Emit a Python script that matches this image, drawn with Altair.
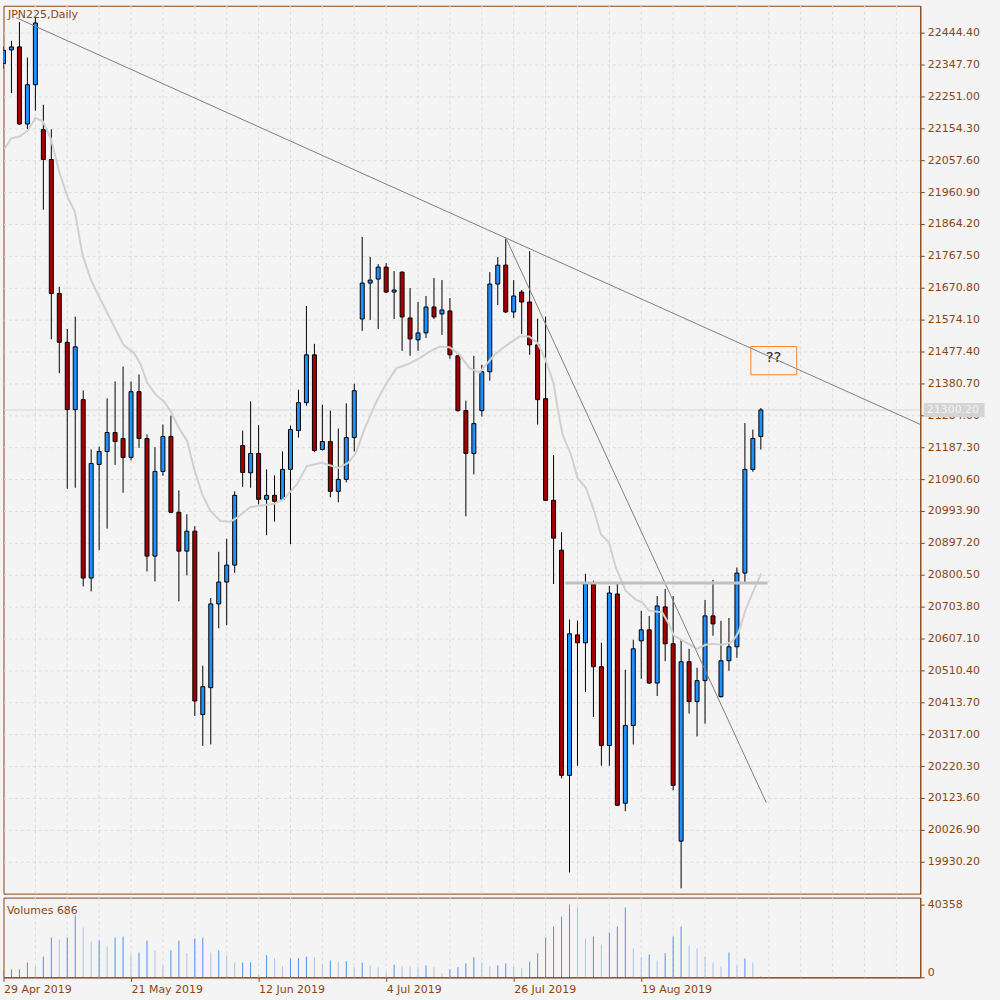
import altair as alt
import pandas as pd

BROWN = "#8B4513"
FONT = "DejaVu Sans"
BG = "#f4f4f4"

symbol_title = "JPN225,Daily"
date_labels = ["29 Apr 2019", "21 May 2019", "12 Jun 2019", "4 Jul 2019", "26 Jul 2019", "19 Aug 2019"]
date_label_idx = [0, 16, 32, 48, 64, 80]

price_ticks = [22444.40, 22347.70, 22251.00, 22154.30, 22057.60, 21960.90, 21864.20, 21767.50,
               21670.80, 21574.10, 21477.40, 21380.70, 21284.00, 21187.30, 21090.60, 20993.90,
               20897.20, 20800.50, 20703.80, 20607.10, 20510.40, 20413.70, 20317.00, 20220.30,
               20123.60, 20026.90, 19930.20]

opens = [
    22350.7, 22392.1, 22401.2, 22167.3, 22286.4, 22150.4, 22059.7, 21653.6, 21505.5, 21301.2,
    21331.4, 20790.5, 21135.0, 21174.3, 21231.7, 21213.6, 21156.2, 21355.6, 21213.6, 20857.0,
    21113.9, 21219.6, 20990.0, 20872.1, 20932.6, 20376.5, 20458.1, 20712.0, 20778.4, 20829.8,
    21192.4, 21109.6, 21168.3, 21029.3, 21041.3, 21029.3, 21119.9, 21237.8, 21322.4, 21467.4,
    21180.3, 21204.5, 21053.4, 21089.7, 21216.6, 21576.2, 21685.0, 21697.1, 21733.4, 21657.8,
    21718.2, 21579.2, 21512.8, 21533.9, 21612.5, 21591.3, 21600.4, 21464.4, 21298.2, 21168.3,
    21298.2, 21416.1, 21682.0, 21739.4, 21597.4, 21657.8, 21627.6, 21497.6, 21334.5, 21026.2,
    20875.1, 20192.2, 20618.3, 20594.1, 20772.4, 20521.6, 20282.8, 20742.2, 20107.6, 20343.3,
    20600.1, 20633.4, 20472.0, 20702.9, 20591.1, 19992.7, 20536.7, 20415.8, 20479.3, 20675.7,
    20430.9, 20539.7, 20582.0, 20805.6, 21119.9, 21219.6]

highs = [
    22402.1, 22419.3, 22476.7, 22368.9, 22489.7, 22225.9, 22151.3, 21673.8, 21546.0, 21583.2,
    21359.5, 21180.3, 21189.4, 21335.4, 21386.7, 21432.1, 21386.7, 21407.9, 21225.7, 21187.3,
    21255.9, 21283.1, 21056.4, 20983.9, 20947.7, 20524.6, 20730.1, 20870.0, 20909.3, 21053.4,
    21237.8, 21326.3, 21253.8, 21119.9, 21101.8, 21174.3, 21252.9, 21361.7, 21615.5, 21500.7,
    21316.3, 21298.2, 21243.8, 21320.3, 21379.8, 21824.9, 21764.5, 21742.4, 21745.4, 21721.3,
    21720.0, 21669.9, 21627.6, 21645.7, 21700.1, 21694.1, 21639.7, 21466.0, 21328.4, 21464.4,
    21437.2, 21718.2, 21763.6, 21818.0, 21694.1, 21663.8, 21781.7, 21577.1, 21583.2, 21163.1,
    20929.5, 20664.5, 20661.5, 20803.5, 20782.4, 20594.1, 20766.3, 20772.4, 20512.5, 20603.2,
    20690.8, 20675.7, 20736.1, 20757.3, 20736.1, 20603.2, 20576.0, 20518.6, 20724.0, 20784.5,
    20660.6, 20669.6, 20822.6, 21260.7, 21240.8, 21306.1]

lows = [
    22335.6, 22261.0, 22164.3, 22152.2, 22207.8, 21907.4, 21514.6, 21411.8, 21061.3, 21064.3,
    20765.1, 20750.0, 20875.1, 20940.4, 21133.8, 21049.2, 21147.1, 21185.2, 20810.5, 20780.2,
    21100.6, 20986.9, 20719.8, 20798.4, 20372.3, 20281.6, 20285.9, 20638.2, 20647.3, 20806.5,
    21067.3, 21064.3, 21014.1, 20920.5, 20961.6, 21026.0, 20893.3, 21216.6, 21313.3, 21172.0,
    21177.3, 21035.3, 21020.2, 21080.6, 21174.3, 21540.0, 21573.2, 21546.0, 21654.8, 21576.2,
    21479.5, 21464.4, 21479.5, 21518.8, 21576.2, 21527.9, 21455.3, 21295.2, 20977.9, 21104.8,
    21280.1, 21388.9, 21618.5, 21594.3, 21579.2, 21530.9, 21467.4, 21255.9, 21024.0, 20772.4,
    20183.1, 19897.9, 20221.2, 20444.8, 20369.3, 20221.2, 20221.2, 20099.0, 20083.4, 20285.9,
    20485.3, 20470.2, 20432.7, 20538.5, 20146.9, 19849.5, 20379.5, 20310.0, 20349.3, 20615.3,
    20428.0, 20509.5, 20548.8, 20777.2, 21112.7, 21180.3]

closes = [
    22390.9, 22401.2, 22167.3, 22286.4, 22473.7, 22059.7, 21653.6, 21505.5, 21301.2, 21491.6,
    20790.5, 21138.0, 21174.3, 21231.7, 21204.5, 21156.2, 21355.6, 21213.6, 20857.0, 21113.9,
    21219.6, 20990.0, 20872.1, 20932.6, 20417.6, 20461.1, 20712.0, 20778.4, 20829.8, 21041.3,
    21110.8, 21168.3, 21029.3, 21041.3, 21023.2, 21119.9, 21240.8, 21322.4, 21467.4, 21177.3,
    21204.5, 21053.4, 21089.7, 21216.6, 21358.6, 21685.0, 21694.1, 21733.4, 21657.8, 21663.8,
    21582.3, 21515.8, 21533.9, 21612.5, 21582.3, 21603.4, 21467.4, 21298.2, 21168.3, 21258.9,
    21416.1, 21682.0, 21739.4, 21597.4, 21645.7, 21627.6, 21497.6, 21331.4, 21026.2, 20911.4,
    20192.2, 20621.3, 20594.1, 20772.4, 20521.6, 20282.8, 20745.2, 20101.5, 20343.3, 20576.0,
    20633.4, 20472.0, 20705.9, 20591.1, 20162.0, 20536.7, 20415.8, 20479.3, 20675.7, 20651.5,
    20539.7, 20582.0, 20805.6, 21119.9, 21213.6, 21300.2]

volumes = [
    4000, 4420, 4420, 8290, 6080, 11600, 22100, 21000, 22100, 34300,
    27600, 19900, 20500, 17100, 22100, 22700, 12700, 13800, 20500, 14900,
    6600, 14900, 20500, 13300, 21600, 22100, 13800, 14900, 12200, 8290,
    8300, 8350, 1660, 12200, 10500, 6080, 10500, 10550, 11600, 11100,
    7190, 9400, 8850, 8900, 5530, 8290, 6630, 5530, 2760, 7190,
    6080, 6000, 5530, 6630, 5530, 2210, 4420, 5530, 7740, 11100,
    8290, 6080, 6630, 7740, 6080, 4980, 8850, 13300, 22100, 28200,
    33700, 40358, 38700, 21600, 22700, 18200, 24900, 28200, 38700, 16000,
    11100, 12700, 9400, 13300, 22700, 28200, 17700, 16000, 11600, 8290,
    6080, 13800, 6630, 10500, 8290, 686]

# moving average line (bar position, price)
ma_idx = [0.13, 0.96, 2.0, 3.05, 4.0, 4.93, 5.96, 7.0, 8.05, 8.96, 9.93, 10.96, 12.0, 13.05,
          14.09, 15.05, 16.38, 17.21, 18.05, 19.09, 20.13, 20.96, 22.0, 23.05, 23.88, 24.93,
          25.96, 27.21, 28.46, 29.3, 30.96, 33.96, 35.13, 36.8, 38.05, 39.93, 42.0, 43.25,
          44.21, 45.34, 46.8, 48.05, 49.3, 50.55, 52.21, 53.46, 54.71, 55.96, 57.21, 58.46,
          59.71, 61.59, 63.05, 64.71, 65.96, 67.0, 68.0, 69.0, 69.5, 70.13, 71.18, 72.0, 73.05,
          74.09, 74.93, 75.96, 76.8, 78.05, 79.3, 80.13, 80.96, 82.63, 83.46, 84.09, 85.55,
          87.0, 88.05, 88.88, 90.13, 91.38, 92.21, 93.05, 94.09, 95.05]
ma_val = [22091.7, 22124.1, 22129.2, 22147.3, 22185.4, 22175.5, 22122.0, 22021.3, 21945.8,
          21900.5, 21769.6, 21695.0, 21643.6, 21593.1, 21543.0, 21497.6, 21472.3, 21437.2,
          21381.6, 21346.6, 21326.3, 21296.1, 21245.6, 21205.4, 21124.7, 21044.4, 20993.9,
          20963.7, 20961.6, 20973.6, 21006.0, 21016.0, 21029.3, 21074.6, 21129.9, 21139.9,
          21124.7, 21139.9, 21170.0, 21245.6, 21326.3, 21381.6, 21426.9, 21437.2, 21457.2,
          21477.4, 21492.5, 21490.4, 21467.4, 21426.9, 21413.9, 21467.4, 21495.5, 21522.7,
          21522.7, 21502.5, 21452.3, 21381.6, 21306.1, 21225.7, 21165.2, 21094.5, 21064.3,
          20993.9, 20923.5, 20898.1, 20822.6, 20752.1, 20724.9, 20716.8, 20691.7, 20686.6,
          20651.5, 20616.2, 20595.9, 20576.0, 20588.0, 20591.1, 20588.0, 20595.9, 20626.1,
          20691.7, 20752.1, 20804.4]

# drawn objects (bar position, price)
trend_long = {"x": [1.59], "y": [22489.7], "x2": [115.1], "y2": [21255.3]}
trend_steep = {"x": [62.96], "y": [21824.9], "x2": [95.68], "y2": [20109.4]}
level_line = {"x": [70.46], "x2": [95.84], "y": [20775.4]}
question_box = {"x": [93.75], "x2": [99.5], "y": [21492.5], "y2": [21407.0]}
question_text = {"x": [96.6], "y": [21461.4], "t": ["??"]}
bid_price = 21300.20

grid_x = list(range(4, 115, 4))

# ---------------------------------------------------------------
n = len(opens)
candles = pd.DataFrame({"i": list(range(n)), "open": opens, "high": highs,
                        "low": lows, "close": closes})
candles["col"] = ["#1E90FF" if c >= o else "#A40000" for o, c in zip(opens, closes)]

vol_df = pd.DataFrame({"i": list(range(n)), "v": volumes})
vol_df["col"] = ["#4F8EF6" if k == 0 or volumes[k] >= volumes[k - 1] else "#A9C4E8" for k in range(n)]

x_scale = alt.Scale(domain=[0, 115], nice=False, zero=False, padding=0)
y_scale = alt.Scale(domain=[19833.5, 22526.0], nice=False, zero=False, padding=0)
v_scale = alt.Scale(domain=[0, 44228], nice=False, zero=False, padding=0)

y_axis = alt.Axis(orient="right", values=price_ticks, format=".2f", title=None,
                  labelFont=FONT, labelFontSize=11, labelColor=BROWN,
                  tickColor=BROWN, tickSize=4, domainColor=BROWN, labelPadding=3,
                  grid=True, gridColor="#dcdcdc", gridDash=[3, 3],
                  labelOverlap=False, labelFlush=False, minExtent=77.5, maxExtent=77.5)

vx_axis = alt.Axis(values=date_label_idx,
                   labelExpr="[" + ",".join(f"'{d}'" for d in date_labels) + "][datum.value / 16]",
                   title=None, labelFont=FONT, labelFontSize=11, labelColor=BROWN, labelAlign="left",
                   labelBaseline="top", labelPadding=2, tickColor=BROWN, tickSize=4,
                   domainColor=BROWN, grid=False, labelOverlap=False, labelFlush=False,
                   labelBound=False, minExtent=22, maxExtent=22)

vy_axis = alt.Axis(orient="right", values=[0, 40358], format="d", title=None,
                   labelFont=FONT, labelFontSize=11, labelColor=BROWN,
                   tickColor=BROWN, tickSize=4, domainColor=BROWN, labelPadding=3,
                   grid=False, labelOverlap=False, labelFlush=False,
                   labelBaseline={"condition": {"test": "datum.value == 0", "value": "bottom"},
                                  "value": "middle"},
                   minExtent=77.5, maxExtent=77.5)


def px(field, ax=None):
    return alt.X(field, scale=x_scale, axis=ax)


def py(field):
    return alt.Y(field, scale=y_scale, axis=y_axis)


grid_rules = alt.Chart(pd.DataFrame({"g": grid_x})).mark_rule(
    color="#dcdcdc", strokeDash=[3, 3], strokeWidth=1
).encode(x=px("g:Q"))

bid_line = alt.Chart(pd.DataFrame({"p": [bid_price]})).mark_rule(
    color="#d6d6d6", strokeWidth=1
).encode(y=py("p:Q"))

wicks = alt.Chart(candles).mark_rule(color="black", strokeWidth=1, clip=True).encode(
    x=px("i:Q"), y=py("low:Q"), y2="high:Q")

bodies = alt.Chart(candles).mark_bar(size=4, stroke="black", strokeWidth=1, clip=True).encode(
    x=px("i:Q"), y=py("open:Q"), y2="close:Q", color=alt.Color("col:N", scale=None))

ma_line = alt.Chart(pd.DataFrame({"i": ma_idx, "m": ma_val})).mark_line(
    color="#d0d0d0", strokeWidth=2, clip=True
).encode(x=px("i:Q"), y=py("m:Q"))

t_long = alt.Chart(pd.DataFrame(trend_long)).mark_rule(color="#808080", strokeWidth=1, clip=True).encode(
    x=px("x:Q"), x2="x2:Q", y=py("y:Q"), y2="y2:Q")

t_steep = alt.Chart(pd.DataFrame(trend_steep)).mark_rule(color="#808080", strokeWidth=1, clip=True).encode(
    x=px("x:Q"), x2="x2:Q", y=py("y:Q"), y2="y2:Q")

level = alt.Chart(pd.DataFrame(level_line)).mark_rule(color="#c0c0c0", strokeWidth=3, clip=True).encode(
    x=px("x:Q"), x2="x2:Q", y=py("y:Q"))

qbox = alt.Chart(pd.DataFrame(question_box)).mark_rect(
    fillOpacity=0, stroke="#F5842A", strokeWidth=1, clip=True
).encode(x=px("x:Q"), x2="x2:Q", y=py("y:Q"), y2="y2:Q")

qtext = alt.Chart(pd.DataFrame(question_text)).mark_text(
    font=FONT, fontSize=15, color="#3c2415", align="center", baseline="middle"
).encode(x=px("x:Q"), y=py("y:Q"), text="t:N")

title_text = alt.Chart(pd.DataFrame({"t": [symbol_title]})).mark_text(
    font=FONT, fontSize=11, color=BROWN, align="left", baseline="alphabetic"
).encode(x=alt.value(4.5), y=alt.value(12.5), text="t:N")

price_box = alt.Chart(pd.DataFrame({"p": [bid_price]})).mark_rule(
    color="#d4d4d4", strokeWidth=14, strokeCap="butt", clip=False
).encode(x=alt.value(923.5), x2=alt.value(984.5), y=py("p:Q"))

price_text = alt.Chart(pd.DataFrame({"p": [bid_price], "t": [f"{bid_price:.2f}"]})).mark_text(
    font=FONT, fontSize=11, color="#f2f2f2", align="left", baseline="middle", clip=False
).encode(x=alt.value(926.5), y=py("p:Q"), text="t:N")

main = alt.layer(
    bid_line, grid_rules, wicks, bodies, ma_line, t_long, t_steep, level, qbox, qtext,
    title_text, price_box, price_text
).properties(width=920, height=891)

# ---------------- volume panel ----------------
vgrid = alt.Chart(pd.DataFrame({"g": grid_x})).mark_rule(
    color="#dcdcdc", strokeDash=[3, 3], strokeWidth=1
).encode(x=px("g:Q", vx_axis))

vbars = alt.Chart(vol_df).mark_bar(size=1, clip=True).encode(
    x=px("i:Q", vx_axis),
    y=alt.Y("v:Q", scale=v_scale, axis=vy_axis),
    color=alt.Color("col:N", scale=None))

vtext = alt.Chart(pd.DataFrame({"t": [f"Volumes {volumes[-1]}"]})).mark_text(
    font=FONT, fontSize=11, color=BROWN, align="left", baseline="alphabetic"
).encode(x=alt.value(3.5), y=alt.value(16), text="t:N")

vol = alt.layer(vgrid, vbars, vtext).properties(width=920, height=80)

chart = alt.vconcat(main, vol, spacing=2).configure(
    background=BG,
    padding={"left": 2.5, "top": 3, "right": 2, "bottom": 2},
).configure_view(stroke=BROWN, strokeWidth=1, fill=BG)

chart.save("out.html", embed_options={"renderer": "svg", "actions": False})
